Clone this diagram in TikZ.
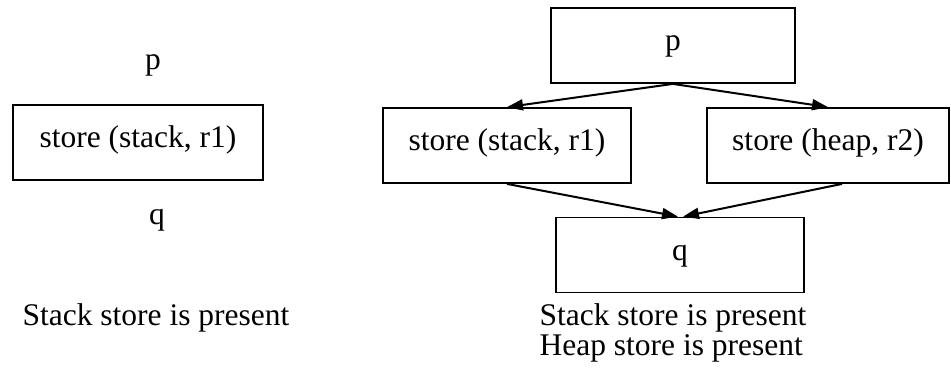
\documentclass[tikz,border=0pt]{standalone}
\usepackage{fontspec}
\setmainfont{Liberation Serif}
\usetikzlibrary{arrows.meta, positioning}

\begin{document}
\begin{tikzpicture}[
      x=0.5pt, y=-0.5pt,
      box/.style={draw, line width=0.9pt, minimum height=37.5pt,
                  inner sep=0pt, text height=11.2pt, text depth=6pt,
                  font=\fontsize{15.75}{17}\selectfont},
      lbl/.style={inner sep=0pt, font=\fontsize{15.75}{15}\selectfont},
      >={Triangle[length=8pt, width=5.5pt]}, line width=1pt
    ]
    \useasboundingbox (0,0) rectangle (951,372);
    % left: single store
    \node[lbl] (pl) at (153,65) {p};
    \node[box, minimum width=125pt] (sl) at (138,142.5) {store (stack, r1)};
    \node[lbl] (ql) at (157,220) {q};
    \node[lbl] (cl) at (156,318) {Stack store is present};
    % right: two branches
    \node[box, minimum width=122pt] (pr) at (673,45.5) {p};
    \node[box, minimum width=124pt] (sr) at (507,145.5) {store (stack, r1)};
    \node[box, minimum width=121pt] (hr) at (828,145.5) {store (heap, r2)};
    \node[box, minimum width=124pt] (qr) at (680,255) {q};
    \node[lbl, align=left] (cr) at (673,333) {Stack store is present\\Heap store is present};
    \draw[->] (pr.south) -- (sr.north);
    \draw[->] (pr.south) -- (hr.north);
    \draw[->] (sr.south) -- ([xshift=-1pt]qr.north);
    \draw[->] ([xshift=7pt]hr.south) -- ([xshift=1.5pt]qr.north);
  \end{tikzpicture}
\end{document}
